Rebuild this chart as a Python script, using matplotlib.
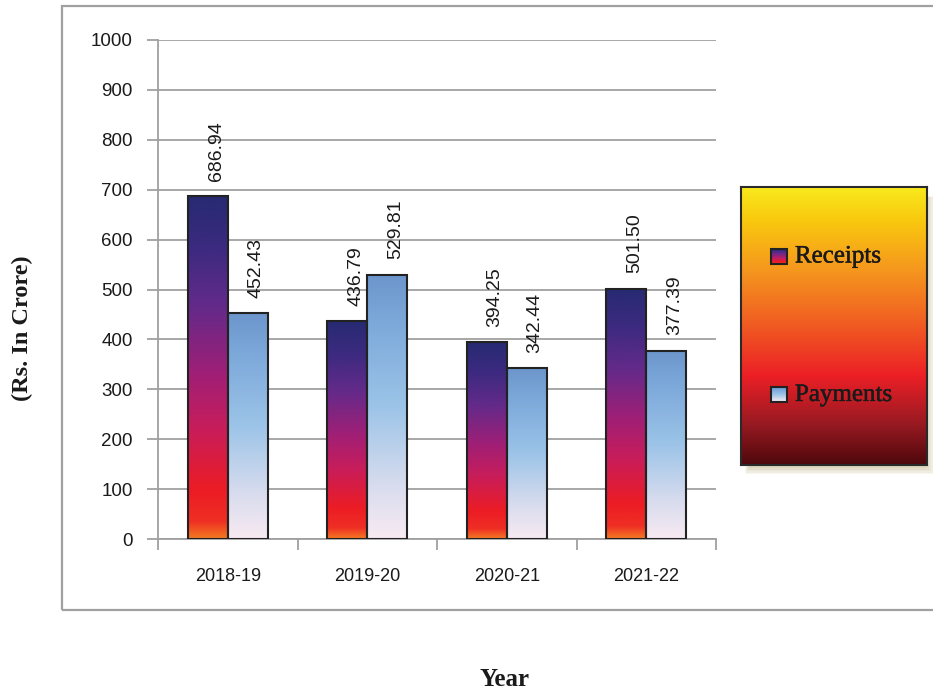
import numpy as np
import matplotlib
matplotlib.use("Agg")
import matplotlib.pyplot as plt
import matplotlib.patheffects as pe
from matplotlib.colors import LinearSegmentedColormap
from matplotlib.patches import Rectangle

years = ["2018-19", "2019-20", "2020-21", "2021-22"]
receipts = [686.94, 436.79, 394.25, 501.50]
payments = [452.43, 529.81, 342.44, 377.39]
series_names = ["Receipts", "Payments"]
y_ticks = [0, 100, 200, 300, 400, 500, 600, 700, 800, 900, 1000]

W, H = 933, 691
fig = plt.figure(figsize=(W / 100, H / 100), dpi=100)
fig.patch.set_facecolor("white")

# colour ramps (bottom -> top)
rec_cmap = LinearSegmentedColormap.from_list(
    "rec", [(0.0, "#f47a22"), (0.05, "#ef2f24"), (0.14, "#ec1c24"),
            (0.32, "#c81d5a"), (0.48, "#a01f76"), (0.68, "#632a8a"),
            (0.85, "#3c2a80"), (1.0, "#272a72")])
pay_cmap = LinearSegmentedColormap.from_list(
    "pay", [(0.0, "#f8eaf2"), (0.2, "#d8dcee"), (0.5, "#9cc4e8"),
            (0.8, "#7eaadb"), (1.0, "#6c96cc")])
leg_cmap = LinearSegmentedColormap.from_list(
    "leg", [(0.0, "#4e080c"), (0.15, "#9a1a22"), (0.32, "#ec1f26"),
            (0.5, "#f05a22"), (0.7, "#f5961e"), (0.88, "#f9c80e"),
            (1.0, "#f8ea1c")])
grad = np.linspace(0, 1, 256).reshape(-1, 1)

def px_rect(x0, y0, x1, y1):
    """figure-fraction rect from pixel box (top-left origin)."""
    return [x0 / W, 1 - y1 / H, (x1 - x0) / W, (y1 - y0) / H]

# outer chart frame
fig.patches.append(Rectangle((62 / W, 1 - 610 / H), 1.2, (610 - 6) / H,
                             transform=fig.transFigure, fill=False,
                             edgecolor="#a0a0a0", linewidth=1.6, clip_on=False,
                             zorder=-2))

ax = fig.add_axes(px_rect(158, 40, 716, 539))
x = np.arange(len(years))
bw = 0.285

for xi, r, p in zip(x, receipts, payments):
    for left, val, cmap in ((xi - bw, r, rec_cmap), (xi, p, pay_cmap)):
        ax.imshow(grad, cmap=cmap, origin="lower", aspect="auto",
                  extent=[left, left + bw, 0, val], zorder=2,
                  interpolation="bilinear")

bars_r = ax.bar(x - bw / 2, receipts, bw, facecolor="none",
                edgecolor="#222222", linewidth=1.5, zorder=3)
bars_p = ax.bar(x + bw / 2, payments, bw, facecolor="none",
                edgecolor="#222222", linewidth=1.5, zorder=3)

for bars, vals in ((bars_r, receipts), (bars_p, payments)):
    for b, v in zip(bars, vals):
        ax.annotate(f"{v:.2f}", (b.get_x() + b.get_width() / 2, v),
                    xytext=(6, 11), textcoords="offset points",
                    rotation=90, ha="center", va="bottom",
                    fontsize=14, family="Liberation Sans", color="#1a1a1a")

ax.set_xlim(-0.5, len(years) - 0.5)
ax.set_ylim(0, 1000)
ax.set_yticks(y_ticks)
ax.set_yticklabels([str(t) for t in y_ticks], fontsize=13.5,
                   family="Liberation Sans", color="#1a1a1a")
ax.set_xticks(x)
ax.set_xticklabels(years, fontsize=13, family="Liberation Sans", color="#1a1a1a")
ax.set_xticks(np.arange(len(years) + 1) - 0.5, minor=True)
ax.tick_params(axis="x", which="major", length=0, pad=21)
ax.tick_params(axis="x", which="minor", length=8, width=1.3, color="#a0a0a0")
ax.tick_params(axis="y", length=8, width=1.3, color="#a0a0a0", pad=10)
ax.grid(axis="y", color="#a0a0a0", linewidth=1.3, zorder=0)
ax.set_axisbelow(True)
for s in ("top", "right"):
    ax.spines[s].set_visible(False)
for s in ("left", "bottom"):
    ax.spines[s].set_color("#a0a0a0")
    ax.spines[s].set_linewidth(1.3)
ax.patch.set_alpha(0)

# axis titles
fig.text(22 / W, 1 - 328 / H, "(Rs. In Crore)", rotation=90, ha="center",
         va="center", fontsize=17.5, fontweight="bold",
         family="Liberation Serif", color="#1a1a1a")
fig.text(505 / W, 1 - 679 / H, "Year", ha="center", va="center",
         fontsize=18, fontweight="bold", family="Liberation Serif",
         color="#1a1a1a")

# legend panel with soft shadow
lx0, ly0, lx1, ly1 = 741, 187, 927, 465
for i, a in enumerate([0.10, 0.10, 0.12, 0.14, 0.16]):
    d = 9 - i * 1.5
    fig.patches.append(Rectangle(((lx0 + 4 + i) / W, 1 - (ly1 + d) / H),
                                 (lx1 - lx0 - 2 * i + d - 4) / W,
                                 (ly1 - ly0 - 2 * i) / H,
                                 transform=fig.transFigure, facecolor="#b8ae7a",
                                 edgecolor="none", alpha=a, zorder=-1))
lax = fig.add_axes(px_rect(lx0, ly0, lx1, ly1))
lax.set_zorder(5)
lax.imshow(grad, cmap=leg_cmap, origin="lower", aspect="auto",
           extent=[0, 1, 0, 1], interpolation="bilinear")
lax.set_xticks([])
lax.set_yticks([])
for s in lax.spines.values():
    s.set_color("#2a2a2a")
    s.set_linewidth(1.5)

for name, cmap, yc in ((series_names[0], rec_cmap, 0.75),
                       (series_names[1], pay_cmap, 0.252)):
    mw, mh = 16 / (lx1 - lx0), 15 / (ly1 - ly0)
    lax.imshow(grad, cmap=cmap, origin="lower", aspect="auto",
               extent=[0.161, 0.161 + mw, yc - mh / 2, yc + mh / 2],
               interpolation="bilinear", zorder=2)
    lax.add_patch(Rectangle((0.161, yc - mh / 2), mw, mh, fill=False,
                            edgecolor="#222222", linewidth=1.5, zorder=3))
    lax.text(0.29, yc, name, ha="left", va="center", fontsize=18,
             family="Liberation Serif", color="#1a1a1a", zorder=4,
             path_effects=[pe.withStroke(linewidth=0.35, foreground="#1a1a1a")])
lax.set_xlim(0, 1)
lax.set_ylim(0, 1)

fig.savefig("out.png", dpi=100)
